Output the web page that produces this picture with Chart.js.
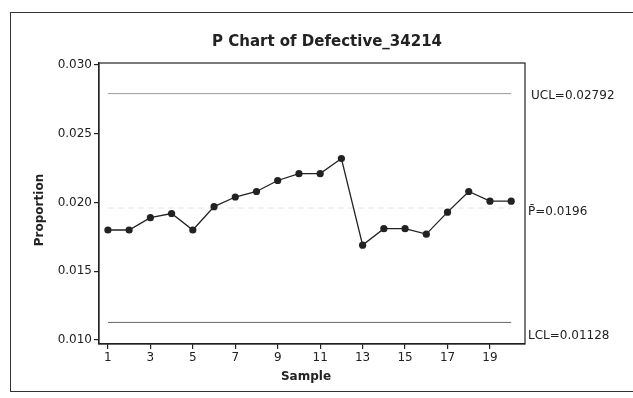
<!DOCTYPE html>
<html>
<head>
<meta charset="utf-8">
<script src="https://cdn.jsdelivr.net/npm/chart.js@4"></script>
<style>
  html, body { margin: 0; padding: 0; background: #fff; }
  #wrap { width: 633px; height: 398px; }
</style>
</head>
<body>
<div id="wrap"><canvas id="pChart" width="633" height="398"></canvas></div>
<script>
// Data
const samples = [1, 2, 3, 4, 5, 6, 7, 8, 9, 10, 11, 12, 13, 14, 15, 16, 17, 18, 19, 20];
const proportion = [0.0180, 0.0180, 0.0189, 0.0192, 0.0180, 0.0197, 0.0204, 0.0208, 0.0216, 0.0221,
                    0.0221, 0.0232, 0.0169, 0.0181, 0.0181, 0.0177, 0.0193, 0.0208, 0.0201, 0.0201];
const UCL = 0.02792;
const PBAR = 0.0196;
const LCL = 0.01128;
const xTicks = [1, 3, 5, 7, 9, 11, 13, 15, 17, 19];
const yTicks = [0.010, 0.015, 0.020, 0.025, 0.030];
const limitLabels = ["UCL=0.02792", "P\u0304=0.0196", "LCL=0.01128"];

const FONT = "'DejaVu Sans', Verdana, sans-serif";
const INK = "#222";

const limitLine = (y) => [{ x: samples[0], y: y }, { x: samples[samples.length - 1], y: y }];

// Frame, title, axis titles and limit labels
const decorations = {
  id: "decorations",
  afterDraw(chart) {
    const ctx = chart.ctx;
    const area = chart.chartArea;
    const yScale = chart.scales.y;
    ctx.save();

    // outer frame
    ctx.strokeStyle = "#333";
    ctx.lineWidth = 1;
    ctx.strokeRect(10.5, 12.5, 640, 379);

    // plot box
    ctx.strokeStyle = INK;
    ctx.lineWidth = 1.2;
    ctx.strokeRect(area.left, area.top, area.right - area.left, area.bottom - area.top);

    ctx.fillStyle = INK;
    ctx.textBaseline = "middle";

    // title
    ctx.font = "bold 15px " + FONT;
    ctx.textAlign = "center";
    ctx.fillText("P Chart of Defective_34214", 327, 42);

    // axis titles
    ctx.font = "bold 12px " + FONT;
    ctx.fillText("Sample", 306, 377);
    ctx.save();
    ctx.translate(40, 210);
    ctx.rotate(-Math.PI / 2);
    ctx.fillText("Proportion", 0, 0);
    ctx.restore();

    // control limit labels
    ctx.font = "12px " + FONT;
    ctx.textAlign = "left";
    ctx.fillText(limitLabels[0], area.right + 6, yScale.getPixelForValue(UCL) + 2);
    ctx.fillText(limitLabels[1], area.right + 3, yScale.getPixelForValue(PBAR) + 4);
    ctx.fillText(limitLabels[2], area.right + 3, yScale.getPixelForValue(LCL) + 13);
    ctx.restore();
  }
};

new Chart(document.getElementById("pChart"), {
  type: "line",
  data: {
    datasets: [
      {
        label: "Proportion",
        data: samples.map((s, i) => ({ x: s, y: proportion[i] })),
        borderColor: INK,
        backgroundColor: INK,
        borderWidth: 1.3,
        pointRadius: 3.6,
        pointBorderWidth: 0,
        tension: 0,
        order: 0,
      },
      {
        label: "UCL",
        data: limitLine(UCL),
        borderColor: "#9a9a9a",
        borderWidth: 1,
        pointRadius: 0,
        order: 1,
      },
      {
        label: "P",
        data: limitLine(PBAR),
        borderColor: "#e4e4e4",
        borderWidth: 1,
        borderDash: [6, 4],
        pointRadius: 0,
        order: 2,
      },
      {
        label: "LCL",
        data: limitLine(LCL),
        borderColor: "#666",
        borderWidth: 1,
        pointRadius: 0,
        order: 1,
      },
    ],
  },
  options: {
    responsive: false,
    animation: false,
    events: [],
    layout: {
      padding: { left: 0, right: 108, top: 63, bottom: 14 },
    },
    plugins: {
      legend: { display: false },
      title: { display: false },
      tooltip: { enabled: false },
    },
    scales: {
      x: {
        type: "linear",
        min: 0.58,
        max: 20.65,
        afterBuildTicks: (scale) => { scale.ticks = xTicks.map((v) => ({ value: v })); },
        afterFit: (scale) => { scale.height = 40; },
        grid: { drawOnChartArea: false, drawTicks: true, tickLength: 5, color: INK, lineWidth: 1.2 },
        border: { display: true, color: INK, width: 1.2 },
        ticks: { color: INK, font: { family: FONT, size: 12 }, padding: 2, maxRotation: 0 },
      },
      y: {
        min: 0.00971,
        max: 0.030145,
        afterBuildTicks: (scale) => { scale.ticks = yTicks.map((v) => ({ value: v })); },
        afterFit: (scale) => { scale.width = 99; },
        grid: { drawOnChartArea: false, drawTicks: true, tickLength: 5, color: INK, lineWidth: 1.2 },
        border: { display: true, color: INK, width: 1.2 },
        ticks: {
          color: INK,
          font: { family: FONT, size: 12 },
          padding: 2,
          callback: (v) => Number(v).toFixed(3),
        },
      },
    },
  },
  plugins: [decorations],
});
</script>
</body>
</html>
